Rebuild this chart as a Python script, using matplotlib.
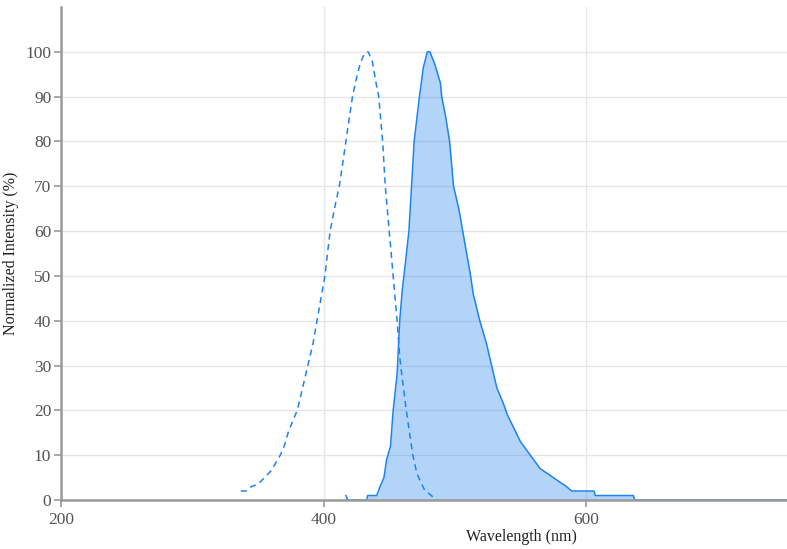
import matplotlib.pyplot as plt
import numpy as np

plt.rcParams['font.family'] = ['Liberation Serif', 'DejaVu Serif']

# excitation spectrum (dashed)
ex_wl = [337, 341, 345, 350, 355, 360, 364, 367, 370, 373, 377, 380, 384, 388, 392, 395,
         398, 401, 405, 409, 412, 415, 417, 420, 422, 425, 428, 431, 434, 437, 440, 442,
         445, 447, 450, 453, 456, 458, 460, 463, 466, 468, 471, 474, 477, 480, 482, 485, 487]
ex_int = [2, 2, 3, 3.5, 5, 6.5, 8.5, 10, 12, 15, 18, 20, 25, 30, 35, 40,
          45, 50, 60, 66, 70, 76, 80, 86, 90, 94, 97.5, 99.5, 100, 98, 93, 90,
          80, 70, 60, 50, 40, 32, 27, 20, 14, 10, 6, 4, 2.2, 1.5, 1, 0.3, 0]

# emission spectrum (solid, filled)
em_wl = [417, 418.5, 433, 433.5, 440.5, 443, 446, 448, 451, 453, 456, 458, 460, 462,
         465, 467, 469, 473, 476, 479, 481, 483, 485, 489, 490, 493, 496, 499, 503, 506,
         512, 514, 519, 524, 528, 532, 537, 540, 545, 550, 555, 560, 565, 570, 575, 580,
         585, 589, 606, 607, 636, 637, 753]
em_int = [1, 0, 0, 1, 1, 3, 5, 9, 12, 20, 28, 40, 47, 52,
          60, 70, 80, 90, 96.5, 100, 100, 98.5, 97, 93, 90, 85.5, 80, 70, 65, 60,
          50, 46, 40, 35, 30, 25, 21.5, 19, 16, 13, 11, 9, 7, 6, 5, 4,
          3, 2, 2, 1, 1, 0, 0]

blue = '#1e82f0'

fig = plt.figure(figsize=(7.87, 5.49), dpi=100)
ax = fig.add_axes([61 / 787, 49 / 549, 726 / 787, 493 / 549])

ax.fill_between(em_wl, em_int, 0, color=blue, alpha=0.34, linewidth=0)
ax.plot(em_wl, em_int, color=blue, linewidth=1.1)
ax.plot(ex_wl, ex_int, color=blue, linewidth=1.1, linestyle=(0, (4, 3)))

ax.set_xlim(200, 753)
ax.set_ylim(0, 110)
ax.set_xticks([200, 400, 600])
ax.set_yticks(np.arange(0, 101, 10))

ax.grid(True, color='#e6e6e6', linewidth=1)
ax.set_axisbelow(True)
for s in ['top', 'right']:
    ax.spines[s].set_visible(False)
for s in ['left', 'bottom']:
    ax.spines[s].set_color('#9a9a9a')
    ax.spines[s].set_linewidth(1.8)
ax.tick_params(colors='#9a9a9a', labelcolor='#555555', labelsize=12.5, length=5, width=1.2)
ax.tick_params(axis='y', pad=2)

ax.set_xlabel('Wavelength (nm)', fontsize=11.5, color='#222222')
ax.xaxis.set_label_coords(0.634, -0.058)
ax.set_ylabel('Normalized Intensity (%)', fontsize=11.5, color='#222222')
ax.yaxis.set_label_coords(-0.058, 0.5)

fig.savefig('out.png', dpi=100)
